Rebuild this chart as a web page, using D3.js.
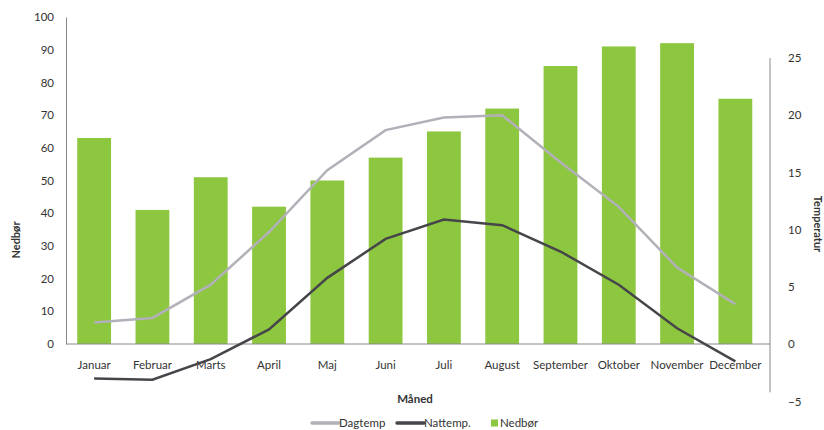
<!DOCTYPE html>
<html>
<head>
<meta charset="utf-8">
<script src="https://cdnjs.cloudflare.com/ajax/libs/d3/7.8.5/d3.min.js"></script>
<style>
  html, body { margin: 0; padding: 0; background: #fff; }
  svg text { font-family: Lato, "Open Sans", sans-serif; fill: #333; }
</style>
</head>
<body>
<svg id="chart" width="824" height="430"></svg>
<script>
// Monthly climate data
const months = ["Januar", "Februar", "Marts", "April", "Maj", "Juni", "Juli",
                "August", "September", "Oktober", "November", "December"];
const nedbor   = [63, 41, 51, 42, 50, 57, 65, 72, 85, 91, 92, 75];
const dagtemp  = [1.9, 2.3, 5.2, 9.8, 15.2, 18.7, 19.8, 20.0, 15.9, 12.0, 6.7, 3.5];
const nattemp  = [-3.0, -3.1, -1.3, 1.3, 5.8, 9.2, 10.9, 10.4, 8.1, 5.2, 1.4, -1.5];
const leftTicks  = [0, 10, 20, 30, 40, 50, 60, 70, 80, 90, 100];
const rightTicks = [-5, 0, 5, 10, 15, 20, 25];

const svg = d3.select("#chart");
const x0 = 66, x1 = 770;

const x = d3.scaleBand().domain(months).range([65, 764.5]).paddingInner(0.42).paddingOuter(0.21);
const yL = d3.scaleLinear().domain([0, 100]).range([344, 17]);
const yR = d3.scaleLinear().domain([-5, 25]).range([401.5, 58]);

// Bars
svg.append("g").selectAll("rect").data(months).join("rect")
  .attr("x", d => x(d))
  .attr("width", x.bandwidth())
  .attr("y", (d, i) => yL(nedbor[i]))
  .attr("height", (d, i) => yL(0) - yL(nedbor[i]))
  .attr("fill", "#8dc63f");

// Left axis
const axL = svg.append("g").attr("transform", `translate(${x0},0)`)
  .call(d3.axisLeft(yL).tickValues(leftTicks).tickSize(0).tickPadding(12));
axL.select(".domain").attr("stroke", "#888").attr("stroke-width", 1);
axL.selectAll("text").attr("font-size", 11.5).style("fill", "#333");

// Right axis
const axR = svg.append("g").attr("transform", `translate(${x1},0)`)
  .call(d3.axisRight(yR).tickValues(rightTicks).tickSize(0).tickPadding(18));
axR.select(".domain").attr("stroke", "#888").attr("stroke-width", 1)
  .attr("d", `M0,${yR(25)}V${yR(-4.2)}`);
axR.selectAll("text").attr("font-size", 11.5).style("fill", "#333");

// Category axis along zero line
const axX = svg.append("g").attr("transform", `translate(0,${yL(0)})`)
  .call(d3.axisBottom(x).tickSize(0).tickPadding(17));
axX.select(".domain").attr("stroke", "#888").attr("stroke-width", 1)
  .attr("d", `M${x0},0H${x1}`);
axX.selectAll("text").attr("font-size", 11.5).style("fill", "#333");

// Temperature lines
const line = d3.line().x((d, i) => x(months[i]) + x.bandwidth() / 2).y(d => yR(d));
svg.append("path").datum(dagtemp).attr("d", line)
  .attr("fill", "none").attr("stroke", "#b2b0b8").attr("stroke-width", 2.5);
svg.append("path").datum(nattemp).attr("d", line)
  .attr("fill", "none").attr("stroke", "#45454a").attr("stroke-width", 2.5);

// Axis titles
svg.append("text").attr("transform", "translate(20,240) rotate(-90)")
  .attr("text-anchor", "middle").attr("font-size", 11).attr("font-weight", "bold").text("Nedbør");
svg.append("text").attr("transform", "translate(814,224) rotate(90)")
  .attr("text-anchor", "middle").attr("font-size", 11).attr("font-weight", "bold").text("Temperatur");
svg.append("text").attr("x", 415).attr("y", 403)
  .attr("text-anchor", "middle").attr("font-size", 11.5).attr("font-weight", "bold").text("Måned");

// Legend
const lg = svg.append("g");
const ly = 423;
lg.append("line").attr("x1", 312).attr("x2", 339).attr("y1", ly).attr("y2", ly)
  .attr("stroke", "#b2b0b8").attr("stroke-width", 3.5).attr("stroke-linecap", "round");
lg.append("text").attr("x", 339).attr("y", ly + 4).attr("font-size", 11.5).text("Dagtemp");
lg.append("line").attr("x1", 397).attr("x2", 424).attr("y1", ly).attr("y2", ly)
  .attr("stroke", "#45454a").attr("stroke-width", 3.5).attr("stroke-linecap", "round");
lg.append("text").attr("x", 424).attr("y", ly + 4).attr("font-size", 11.5).text("Nattemp.");
lg.append("rect").attr("x", 491).attr("y", ly - 3.5).attr("width", 7).attr("height", 7).attr("fill", "#8dc63f");
lg.append("text").attr("x", 500).attr("y", ly + 4).attr("font-size", 11.5).text("Nedbør");
</script>
</body>
</html>
